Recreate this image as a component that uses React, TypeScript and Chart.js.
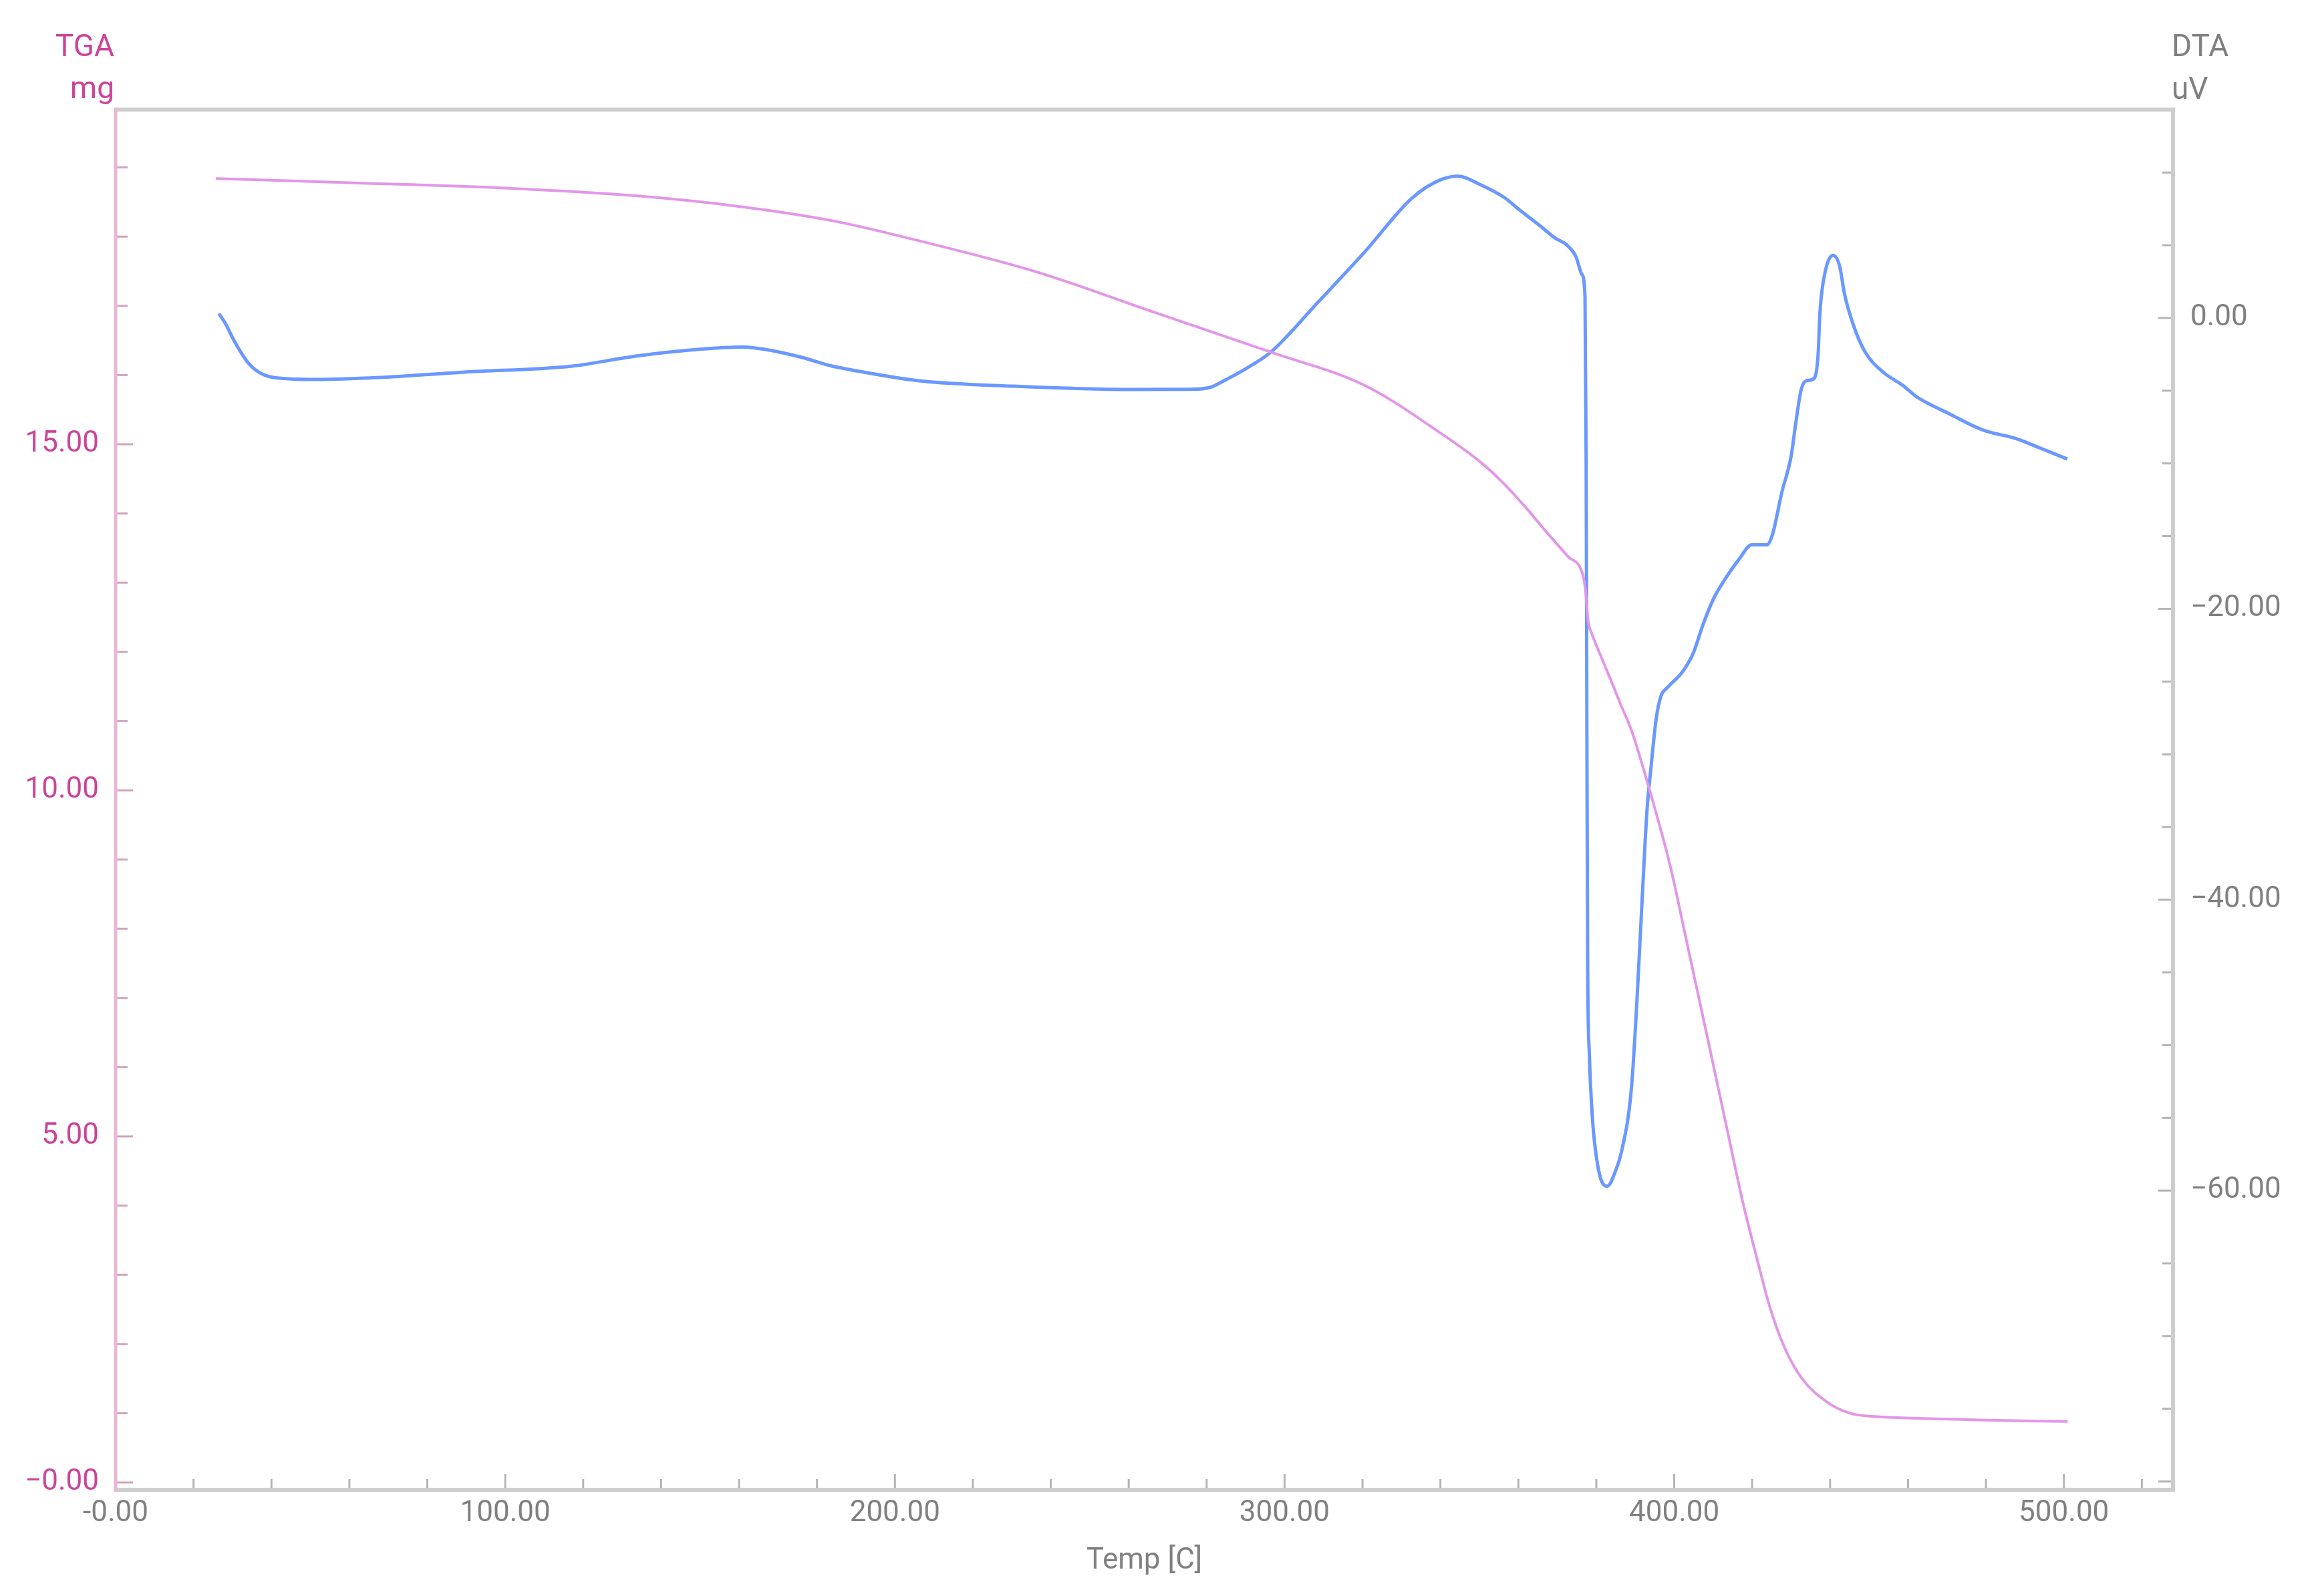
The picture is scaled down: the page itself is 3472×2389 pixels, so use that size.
import React, { useEffect, useRef } from "react";
import { Chart, registerables } from "chart.js";

Chart.register(...registerables);

// ---- DATA ----
const DTA_T = [
  26.5, 28.0, 30.7, 34.0, 36.7, 40.5, 51.5, 67.9, 89.7, 117.2, 133.5, 150.0, 160.9, 168.6, 176.0,
  183.9, 188.2, 206.2, 230.4, 260.4, 276.0, 280.8, 284.4, 290.0, 296.5, 308.5, 320.6, 332.6, 340.0,
  344.6, 350.0, 356.3, 360.2, 365.5, 369.4, 372.5, 374.8, 376.3, 377.1, 377.4, 377.6, 377.8, 378.2,
  379.0, 380.6, 382.8, 385.0, 386.4, 389.0, 390.4, 391.8, 393.0, 394.0, 395.4, 396.6, 398.3, 402.2,
  404.8, 407.5, 410.1, 412.7, 416.6, 419.9, 423.8, 425.2, 427.6, 430.0, 431.2, 432.6, 434.0, 435.7,
  436.9, 437.4, 438.6, 440.8, 442.5, 443.7, 446.0, 448.9, 453.5, 458.7, 462.1, 470.7, 479.2, 487.8,
  493.5, 500.9,
];
const DTA_V = [
  0.3, -0.3, -1.7, -3.08, -3.72, -4.09, -4.23, -4.09, -3.72, -3.31, -2.62, -2.15, -2.0, -2.25, -2.7,
  -3.31, -3.54, -4.32, -4.69, -4.92, -4.9, -4.78, -4.32, -3.5, -2.34, 1.06, 4.55, 8.22, 9.5,
  9.75, 9.2, 8.3, 7.45, 6.35, 5.5, 5.0, 4.2, 3.0, 1.5, -10.0, -30.0, -45.0, -50.5,
  -55.0, -58.6, -59.7, -58.6, -57.4, -53.0, -47.1, -39.8, -33.9, -31.0, -27.5, -26.0, -25.4, -24.3,
  -23.1, -21.0, -19.3, -18.1, -16.6, -15.6, -15.6, -14.9, -12.0, -9.5, -7.2, -4.9, -4.3, -4.2,
  -2.6, 0.4, 3.0, 4.3, 3.5, 1.65, -0.5, -2.3, -3.7, -4.64, -5.4, -6.6, -7.7, -8.3,
  -8.9, -9.7,
];

const TGA_T = [
  25.7, 59.9, 100.7, 133.5, 160.9, 183.9, 206.2, 236.4, 266.4, 296.5, 320.6, 339.8, 350.1, 356.3,
  362.0, 367.4, 372.7, 376.7, 377.3, 377.9, 378.8, 380.5, 383.9, 386.4, 389.0, 393.7, 399.0, 403.4,
  408.7, 413.5, 417.6, 421.3, 424.4, 428.3, 432.8, 439.0, 445.1, 452.0, 460.4, 480.0, 501.0,
];
const TGA_V = [
  18.84, 18.78, 18.7, 18.59, 18.43, 18.23, 17.94, 17.49, 16.91, 16.33, 15.85, 15.17, 14.75, 14.43,
  14.08, 13.72, 13.38, 13.08, 12.85, 12.45, 12.27, 12.03, 11.57, 11.22, 10.87, 10.0, 8.9, 7.76,
  6.38, 5.12, 4.05, 3.22, 2.56, 1.95, 1.5, 1.17, 1.0, 0.95, 0.93, 0.9, 0.88,
];

const X_TICKS = [0, 100, 200, 300, 400, 500];
const X_TICK_LABELS = ["-0.00", "100.00", "200.00", "300.00", "400.00", "500.00"];
const TGA_TICKS = [0, 5, 10, 15];
const TGA_TICK_LABELS = ["\u22120.00", "5.00", "10.00", "15.00"];
const DTA_TICKS = [0, -20, -40, -60];
const DTA_TICK_LABELS = ["0.00", "\u221220.00", "\u221240.00", "\u221260.00"];
const X_TITLE = "Temp [C]";
const TGA_TITLE = ["TGA", "mg"];
const DTA_TITLE = ["DTA", "uV"];

// ---- STYLE ----
const FONT = "Roboto, 'Noto Sans', sans-serif";
const FONT_SIZE = 44;
const TITLE_SIZE = 46;
const MAGENTA = "#cc4499";
const GRAY_TEXT = "#808080";
const FRAME_GRAY = "#cdcdcd";
const AXIS_PINK = "#e8b6d6";
const TICK_GRAY = "#b4b4b4";
const TICK_PINK = "#d3a2c2";
const DTA_COLOR = "#6a98ff";
const TGA_COLOR = "#e396e8";

const W = 3472;
const H = 2389;

const labelFor = (ticks: number[], labels: string[]) => (v: number | string) => {
  const i = ticks.indexOf(Number(v));
  return i >= 0 ? labels[i] : "";
};

const framePlugin = {
  id: "tgaFrame",
  beforeDatasetsDraw(chart: any) {
    const { ctx, chartArea } = chart;
    const { left, right, top, bottom } = chartArea;
    const sx = chart.scales.x;
    const sy = chart.scales.y;
    const sy2 = chart.scales.y2;
    ctx.save();
    ctx.lineCap = "butt";

    // x ticks (inside, upward)
    ctx.strokeStyle = TICK_GRAY;
    ctx.lineWidth = 3;
    for (let v = 0; v <= sx.max; v += 20) {
      const px = sx.getPixelForValue(v);
      const len = v % 100 === 0 ? 24 : 16;
      ctx.beginPath();
      ctx.moveTo(px, bottom);
      ctx.lineTo(px, bottom - len);
      ctx.stroke();
    }
    // right ticks (inside, leftward)
    for (let v = -80; v <= sy2.max; v += 5) {
      const py = sy2.getPixelForValue(v);
      const len = v % 20 === 0 ? 22 : 16;
      ctx.beginPath();
      ctx.moveTo(right, py);
      ctx.lineTo(right - len, py);
      ctx.stroke();
    }
    // left ticks (inside, rightward)
    ctx.strokeStyle = TICK_PINK;
    for (let v = 0; v <= sy.max; v += 1) {
      const py = sy.getPixelForValue(v);
      const len = v % 5 === 0 ? 26 : 18;
      ctx.beginPath();
      ctx.moveTo(left, py);
      ctx.lineTo(left + len, py);
      ctx.stroke();
    }

    // frame
    ctx.lineWidth = 6;
    ctx.strokeStyle = FRAME_GRAY;
    ctx.beginPath();
    ctx.moveTo(left, top);
    ctx.lineTo(right, top);
    ctx.lineTo(right, bottom);
    ctx.lineTo(left, bottom);
    ctx.stroke();
    ctx.strokeStyle = AXIS_PINK;
    ctx.lineWidth = 5;
    ctx.beginPath();
    ctx.moveTo(left, top - 3);
    ctx.lineTo(left, bottom + 3);
    ctx.stroke();

    // axis titles at the top
    ctx.font = `${TITLE_SIZE}px ${FONT}`;
    ctx.textBaseline = "alphabetic";
    ctx.fillStyle = MAGENTA;
    ctx.textAlign = "right";
    ctx.fillText(TGA_TITLE[0], left - 2, top - 80);
    ctx.fillText(TGA_TITLE[1], left - 2, top - 17);
    ctx.fillStyle = GRAY_TEXT;
    ctx.textAlign = "left";
    ctx.fillText(DTA_TITLE[0], right - 2, top - 80);
    ctx.fillText(DTA_TITLE[1], right - 2, top - 16);
    ctx.restore();
  },
};

export default function App() {
  const ref = useRef<HTMLCanvasElement | null>(null);

  useEffect(() => {
    if (!ref.current) return;
    const dta = DTA_T.map((t, i) => ({ x: t, y: DTA_V[i] }));
    const tga = TGA_T.map((t, i) => ({ x: t, y: TGA_V[i] }));
    const tickFont = { family: FONT, size: FONT_SIZE };

    const chart = new Chart(ref.current, {
      type: "line",
      data: {
        datasets: [
          {
            label: "TGA",
            data: tga,
            yAxisID: "y",
            borderColor: TGA_COLOR,
            borderWidth: 4,
            pointRadius: 0,
            fill: false,
            cubicInterpolationMode: "monotone",
          },
          {
            label: "DTA",
            data: dta,
            yAxisID: "y2",
            borderColor: DTA_COLOR,
            borderWidth: 5,
            pointRadius: 0,
            fill: false,
            cubicInterpolationMode: "monotone",
          },
        ],
      },
      options: {
        responsive: false,
        animation: false,
        devicePixelRatio: 1,
        layout: { padding: { top: 164, left: 0, right: 0, bottom: 0 } },
        plugins: { legend: { display: false }, tooltip: { enabled: false } },
        scales: {
          x: {
            type: "linear",
            position: "bottom",
            min: 0,
            max: 528,
            grid: { display: false, drawTicks: false },
            border: { display: false },
            afterBuildTicks: (s: any) => {
              s.ticks = X_TICKS.map((v) => ({ value: v }));
            },
            afterFit: (s: any) => {
              s.height = 159;
            },
            ticks: {
              autoSkip: false,
              maxRotation: 0,
              padding: 10,
              color: GRAY_TEXT,
              font: tickFont,
              callback: labelFor(X_TICKS, X_TICK_LABELS),
            },
            title: {
              display: true,
              text: X_TITLE,
              color: GRAY_TEXT,
              font: tickFont,
              padding: { top: 0, bottom: 26 },
            },
          },
          y: {
            type: "linear",
            position: "left",
            min: -0.106,
            max: 19.836,
            grid: { display: false, drawTicks: false },
            border: { display: false },
            afterBuildTicks: (s: any) => {
              s.ticks = TGA_TICKS.map((v) => ({ value: v }));
            },
            afterFit: (s: any) => {
              s.width = 173;
            },
            ticks: {
              autoSkip: false,
              padding: 25,
              color: MAGENTA,
              font: tickFont,
              callback: labelFor(TGA_TICKS, TGA_TICK_LABELS),
            },
          },
          y2: {
            type: "linear",
            position: "right",
            min: -80.57,
            max: 14.33,
            grid: { display: false, drawTicks: false },
            border: { display: false },
            afterBuildTicks: (s: any) => {
              s.ticks = DTA_TICKS.map((v) => ({ value: v }));
            },
            afterFit: (s: any) => {
              s.width = 220;
            },
            ticks: {
              autoSkip: false,
              padding: 26,
              color: GRAY_TEXT,
              font: tickFont,
              callback: labelFor(DTA_TICKS, DTA_TICK_LABELS),
            },
          },
        },
      } as any,
      plugins: [framePlugin],
    });
    return () => chart.destroy();
  }, []);

  return (
    <div style={{ position: "absolute", left: 0, top: 0, width: W, height: H, background: "#fff" }}>
      <canvas ref={ref} width={W} height={H} style={{ width: W, height: H, display: "block" }} />
    </div>
  );
}
